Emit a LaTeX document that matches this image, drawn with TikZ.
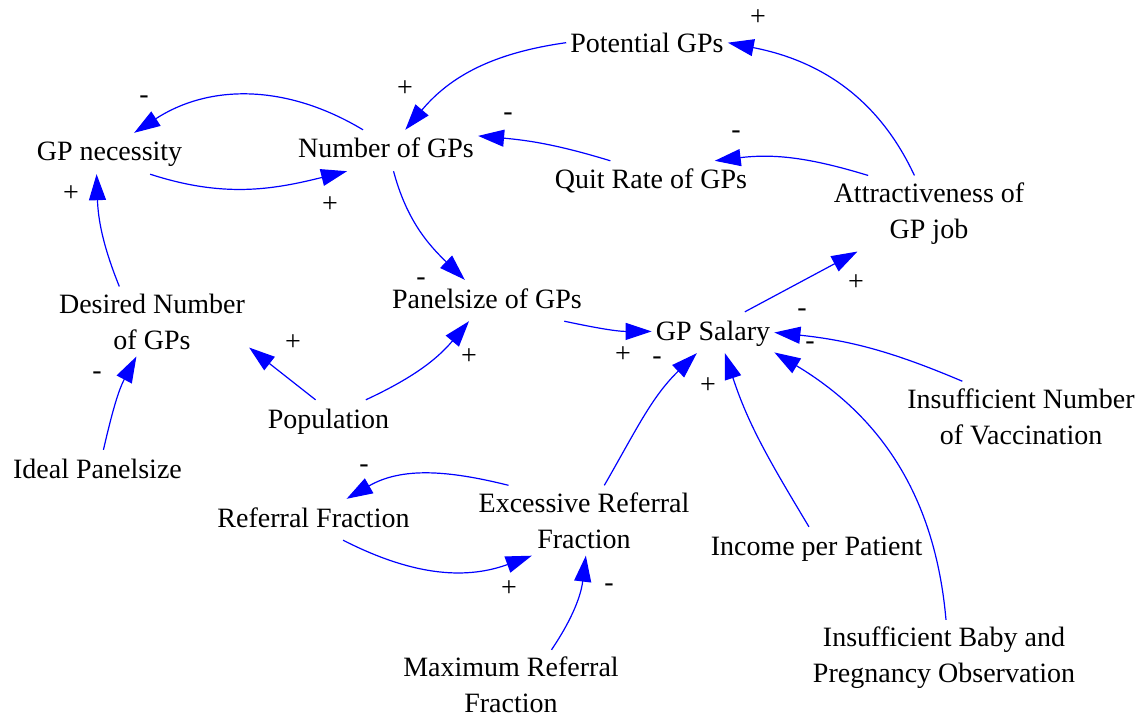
\documentclass[tikz,border=0pt]{standalone}
\usepackage{fontspec}
\setmainfont{Liberation Serif}
\usetikzlibrary{arrows.meta}
\begin{document}
\begin{tikzpicture}[x=1pt,y=1pt,
  var/.style={font=\fontsize{28}{36}\selectfont, inner xsep=4pt, inner ysep=7pt,
              text height=21pt, text depth=6pt, anchor=base},
  var2/.style={font=\fontsize{28}{36}\selectfont, inner xsep=4pt, inner ysep=7pt, align=center},
  plussign/.style={font=\fontsize{28}{36}\selectfont, inner sep=0pt},
  minussign/.style={font=\fontsize{28}{36}\selectfont, inner sep=0pt, yshift=-2.7pt},
  link/.style={draw=blue, line width=1.2pt, -{Triangle[length=26pt,width=17pt,fill=blue]}}
]
\useasboundingbox (0,0) rectangle (1147,-719);

% variables
\node[var]  (pot)   at (647,-53)      {Potential GPs};
\node[var]  (nec)   at (109.5,-161)   {GP necessity};
\node[var]  (num)   at (386,-158)     {Number of GPs};
\node[var]  (quit)  at (651,-189)     {Quit Rate of GPs};
\node[var2] (attr)  at (929,-213.5)   {Attractiveness of\\GP job};
\node[var2] (des)   at (152,-321.5)   {Desired Number\\of GPs};
\node[var]  (pan)   at (487,-308)     {Panelsize of GPs};
\node[var]  (sal)   at (713,-340)     {GP Salary};
\node[var]  (popn)  at (328.5,-428)   {Population};
\node[var2] (vacc)  at (1021,-416.5)  {Insufficient Number\\of Vaccination};
\node[var]  (ideal) at (97.5,-478)    {Ideal Panelsize};
\node[var]  (ref)   at (313.5,-527)   {Referral Fraction};
\node[var2] (exc)   at (584,-520.5)   {Excessive Referral\\Fraction};
\node[var]  (inc)   at (816.5,-555)   {Income per Patient};
\node[var2] (baby)  at (944,-658)     {Insufficient Baby and\\Pregnancy Observation};
\node[var2] (maxr)  at (511,-685)     {Maximum Referral\\Fraction};

% causal links
\draw[link] (pot.178)  to[out=188,in=50]  (num.47);
\draw[link] (num.138)  to[out=149,in=33]  (nec.40);
\draw[link] (nec.-27)  to[out=-18,in=194] (num.208);
\draw[link] (des.133)  to[out=112,in=-88] (nec.238);
\draw[link] (num.-70)  to[out=-75,in=136] (pan.137);
\draw[link] (quit.153) to[out=163,in=-5]  (num.9);
\draw[link] (attr.111) to[out=115,in=-11] (pot.2);
\draw[link] (attr.148) to[out=163,in=7]   (quit.18);
\draw[link] (sal.33) -- (attr.208);
\draw[link] (pan.-15)  to[out=-12,in=180] (sal.179);
\draw[link] (popn.122) -- (des.-15);
\draw[link] (popn.29)  to[out=25,in=230]  (pan.229);
\draw[link] (ideal.74) to[out=77,in=242]  (des.246);
\draw[link] (exc.155)  to[out=166,in=30]  (ref.32);
\draw[link] (ref.-35)  to[out=-27,in=200] (exc.214);
\draw[link] (maxr.41)  to[out=56,in=-97]  (exc.-87);
\draw[link] (exc.60)   to[out=60,in=224]  (sal.232);
\draw[link] (inc.110)  to[out=121,in=-72] (sal.-60);
\draw[link] (baby.87)  to[out=95,in=-31]  (sal.-18);
\draw[link] (vacc.149) to[out=157,in=-6]  (sal.0);

% link polarities
\node[plussign]  (s1)  at (758,-18)  {+};
\node[plussign]  (s2)  at (405,-89)  {+};
\node[minussign] (s3)  at (144,-97)  {-};
\node[minussign] (s4)  at (508,-114) {-};
\node[minussign] (s5)  at (736,-132) {-};
\node[plussign]  (s6)  at (71,-194)  {+};
\node[plussign]  (s7)  at (330,-205) {+};
\node[minussign] (s8)  at (421,-279) {-};
\node[plussign]  (s9)  at (856,-283) {+};
\node[minussign] (s10) at (802,-310) {-};
\node[plussign]  (s11) at (293,-343) {+};
\node[minussign] (s12) at (810,-343) {-};
\node[plussign]  (s13) at (623,-355) {+};
\node[minussign] (s14) at (657,-358) {-};
\node[plussign]  (s15) at (469,-357) {+};
\node[minussign] (s16) at (97,-373)  {-};
\node[plussign]  (s17) at (708,-386) {+};
\node[minussign] (s18) at (364,-466) {-};
\node[plussign]  (s19) at (509,-589) {+};
\node[minussign] (s20) at (609,-585) {-};
\end{tikzpicture}
\end{document}
